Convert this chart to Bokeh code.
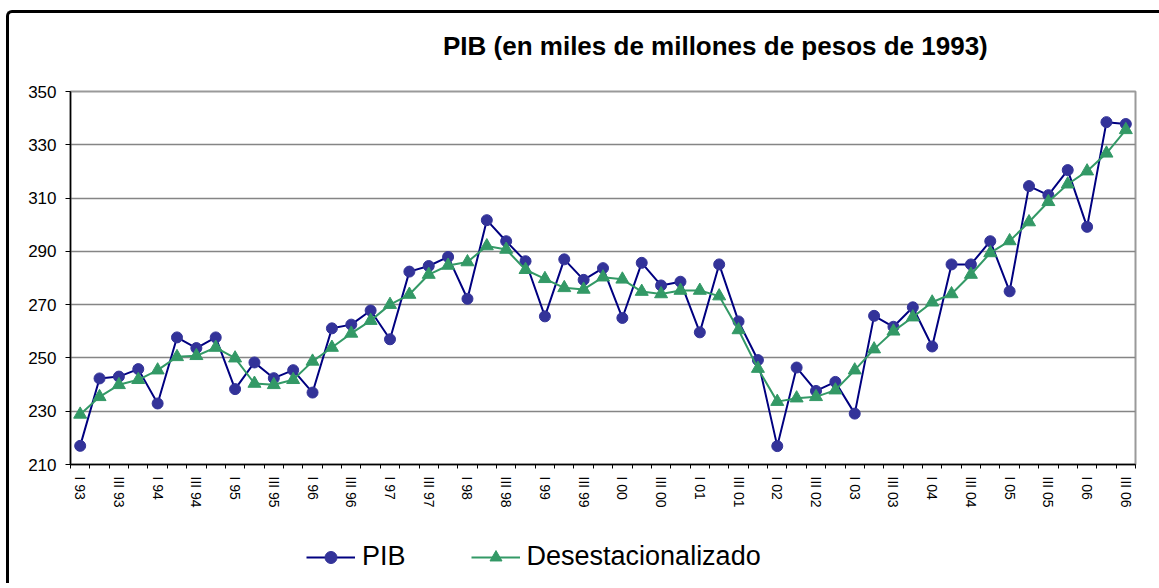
from bokeh.plotting import figure
from bokeh.models import Legend, LegendItem, FixedTicker, Div
from bokeh.layouts import column
from bokeh.embed import file_html
from bokeh.resources import INLINE

quarters = []
for yr in range(93, 107):
    for q in ["I", "II", "III", "IV"]:
        quarters.append(f"{q} {yr % 100:02d}")
quarters = quarters[:55]

pib = [217.0, 242.3, 243.0, 245.8, 232.9, 257.7, 253.7, 257.7, 238.3, 248.3,
       242.4, 245.4, 237.0, 261.1, 262.5, 267.8, 257.0, 282.4, 284.5, 287.9,
       272.2, 301.7, 293.8, 286.3, 265.6, 287.0, 279.3, 283.7, 265.0, 285.7,
       277.2, 278.6, 259.6, 285.1, 263.7, 249.2, 216.9, 246.4, 237.6, 241.0,
       229.1, 265.8, 261.7, 269.0, 254.3, 285.1, 285.1, 293.8, 275.0, 314.5,
       311.1, 320.5, 299.2, 338.5, 337.8]

desest = [228.8, 235.4, 239.9, 241.8, 245.4, 250.4, 250.8, 253.9, 249.9, 240.4,
          239.9, 241.8, 248.7, 253.9, 259.2, 264.0, 270.0, 273.8, 281.3, 284.7,
          286.0, 292.0, 290.7, 283.1, 279.7, 276.3, 275.7, 280.3, 279.5, 274.9,
          274.0, 275.3, 275.3, 273.2, 260.5, 246.0, 233.6, 234.9, 235.4, 237.9,
          245.4, 253.3, 260.0, 265.3, 270.9, 274.0, 281.3, 289.4, 293.9, 301.0,
          308.6, 315.2, 320.1, 326.8, 335.6]

y_ticks = [210, 230, 250, 270, 290, 310, 330, 350]
title_text = "PIB (en miles de millones de pesos de 1993)"
series_names = ["PIB", "Desestacionalizado"]

FONT = "Liberation Sans"
W, HT, H1, H2 = 1150, 50, 445, 65

navy = "#000080"
navy_m = "#333399"
green = "#339966"

x = list(range(len(quarters)))

# title strip
title_div = Div(
    text=('<div style="padding-left:429px; padding-top:15px; '
          'font-family:\'Liberation Sans\', Arial, sans-serif; font-size:26px; '
          'font-weight:bold; line-height:26px; white-space:nowrap; color:black;">'
          + title_text + '</div>'),
    width=W, height=HT)

p = figure(width=W, height=H1, output_backend="svg", toolbar_location=None,
           x_range=(-0.5, len(quarters) - 0.5), y_range=(y_ticks[0], y_ticks[-1]),
           min_border_left=61, min_border_right=24, min_border_top=18,
           min_border_bottom=54, title_location=None)
p.background_fill_color = "white"
p.border_fill_color = "white"
p.outline_line_color = "#9a9a9a"
p.outline_line_width = 2

p.xgrid.visible = False
p.ygrid.grid_line_color = "#858585"
p.ygrid.grid_line_width = 1.6
p.yaxis.ticker = FixedTicker(ticks=y_ticks)
p.yaxis.axis_line_color = "black"
p.yaxis.axis_line_width = 1.5
p.yaxis.major_tick_out = 5
p.yaxis.major_tick_in = 0
p.yaxis.minor_tick_out = 0
p.yaxis.major_tick_line_color = "black"
p.yaxis.major_label_text_font = FONT
p.yaxis.major_label_text_font_size = "17px"
p.yaxis.major_label_text_color = "black"
p.yaxis.major_label_standoff = 9

even = [i for i in x if i % 2 == 0]
bounds = [i - 0.5 for i in range(len(quarters) + 1)]
xa = p.below[0]
xa.ticker = FixedTicker(ticks=even, minor_ticks=bounds)
xa.major_label_overrides = {i: quarters[i] for i in even}
xa.major_label_orientation = "vertical"
xa.major_tick_out = 0
xa.major_tick_in = 0
xa.minor_tick_out = 4
xa.minor_tick_in = 0
xa.minor_tick_line_color = "black"
xa.axis_line_color = "black"
xa.axis_line_width = 1.5
xa.major_label_text_font = FONT
xa.major_label_text_font_size = "14px"
xa.major_label_text_color = "black"
xa.major_label_standoff = 8

p.line(x, pib, line_color=navy, line_width=2)
p.scatter(x, pib, marker="circle", size=11, fill_color=navy_m, line_color=navy_m)
p.line(x, desest, line_color=green, line_width=2)
p.scatter(x, desest, marker="triangle", size=13, fill_color=green, line_color=green)

# legend strip below the chart (its frame is aligned with the chart frame);
# the series lie outside this strip's y range, so only the legend shows
q = figure(width=W, height=H2, output_backend="svg", toolbar_location=None,
           x_range=(-0.5, len(quarters) - 0.5), y_range=(0, 1),
           x_axis_location=None, y_axis_location=None, min_border=0)
q.outline_line_color = None
q.grid.visible = False
q.background_fill_color = "white"
q.border_fill_color = "white"
k1 = q.line(x, pib, line_color=navy, line_width=2)
k1m = q.scatter(x, pib, marker="circle", size=8, fill_color=navy_m, line_color=navy_m)
k2 = q.line(x, desest, line_color=green, line_width=2)
k2m = q.scatter(x, desest, marker="triangle", size=10, fill_color=green, line_color=green)

legend = Legend(items=[LegendItem(label=series_names[0], renderers=[k1, k1m]),
                       LegendItem(label=series_names[1], renderers=[k2, k2m])],
                location=(236, 11), orientation="horizontal",
                padding=0, margin=0, spacing=65, glyph_width=49, glyph_height=30,
                label_height=30, label_standoff=7,
                label_text_font=FONT, label_text_font_size="27px",
                label_text_color="black", border_line_alpha=0,
                background_fill_alpha=0)
q.add_layout(legend, "center")

layout = column(title_div, p, q, spacing=0)
layout.styles = {"margin-left": "6px", "margin-top": "10px",
                 "border-left": "3px solid black", "border-top": "3px solid black",
                 "border-top-left-radius": "6px"}

open("out.html", "w").write(file_html(layout, INLINE))
